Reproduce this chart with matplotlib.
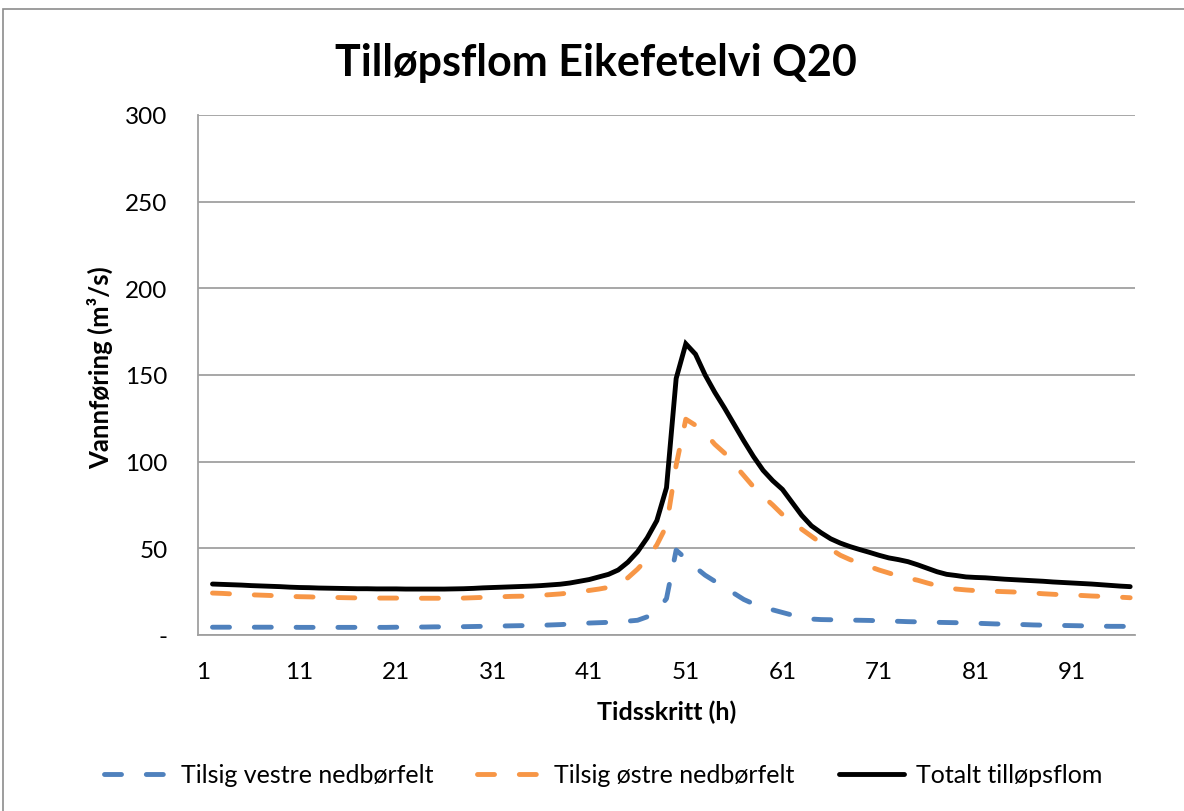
import matplotlib
matplotlib.use("Agg")
import matplotlib.pyplot as plt
from matplotlib.patches import Rectangle
import numpy as np

plt.rcParams['font.family'] = ['Lato', 'DejaVu Sans']

title = "Tilløpsflom Eikefetelvi Q20"
xlabel = "Tidsskritt (h)"
ylabel = "Vannføring (m³/s)"
series_names = ["Tilsig vestre nedbørfelt", "Tilsig østre nedbørfelt", "Totalt tilløpsflom"]

# time steps 2..97
timesteps = list(range(2, 98))

vestre = [4.5, 4.5, 4.5, 4.5, 4.5, 4.5, 4.5, 4.5, 4.5,            # 2-10
          4.4, 4.4, 4.4, 4.4, 4.4, 4.4, 4.4, 4.4, 4.4, 4.4,       # 11-20
          4.5, 4.5, 4.6, 4.6, 4.7, 4.7, 4.8, 4.8, 4.9, 5.0,       # 21-30
          5.1, 5.2, 5.3, 5.4, 5.5, 5.6, 5.8, 6.0, 6.3, 6.6,       # 31-40
          6.9, 7.1, 7.3, 7.6, 8.0, 8.5, 10.5, 14.0, 21.0, 49.0,   # 41-50
          44.0, 39.0, 34.5, 31.0, 27.5, 24.0, 20.5, 18.0, 16.0, 14.5,  # 51-60
          13.0, 11.5, 10.2, 9.2, 8.9, 8.8, 8.7, 8.6, 8.5, 8.4,    # 61-70
          8.2, 8.0, 7.9, 7.7, 7.6, 7.5, 7.3, 7.2, 7.1, 7.0,       # 71-80
          6.8, 6.6, 6.4, 6.3, 6.1, 6.0, 5.8, 5.7, 5.6, 5.5,       # 81-90
          5.4, 5.3, 5.2, 5.1, 5.0, 5.0, 4.9]                      # 91-97

ostre = [24.2, 24.0, 23.7, 23.5, 23.2, 23.0, 22.8, 22.5, 22.3,    # 2-10
         22.1, 22.0, 21.8, 21.7, 21.6, 21.5, 21.4, 21.4, 21.3, 21.3,  # 11-20
         21.3, 21.2, 21.2, 21.2, 21.2, 21.2, 21.3, 21.3, 21.5, 21.7,  # 21-30
         21.9, 22.1, 22.3, 22.4, 22.6, 22.9, 23.3, 23.7, 24.3, 25.0,  # 31-40
         25.7, 26.5, 27.5, 29.5, 33.0, 38.0, 44.0, 52.0, 63.0, 98.0,  # 41-50
         124.5, 121.0, 116.5, 110.0, 105.0, 98.5, 92.0, 85.5, 80.0, 75.0,  # 51-60
         69.5, 65.0, 61.0, 57.0, 53.0, 49.5, 46.0, 43.5, 41.5, 39.5,  # 61-70
         37.5, 35.8, 34.0, 32.8, 31.6, 30.0, 28.5, 27.3, 26.5, 26.0,  # 71-80
         25.6, 25.4, 25.2, 25.0, 24.8, 24.6, 24.2, 23.8, 23.5, 23.2,  # 81-90
         23.0, 22.8, 22.5, 22.3, 22.1, 21.8, 21.5]                    # 91-97

totalt = [29.4, 29.2, 29.0, 28.8, 28.5, 28.3, 28.1, 27.9, 27.6,   # 2-10
          27.4, 27.3, 27.1, 27.0, 26.9, 26.8, 26.7, 26.7, 26.6, 26.6,  # 11-20
          26.6, 26.5, 26.5, 26.5, 26.5, 26.5, 26.6, 26.7, 26.9, 27.2,  # 21-30
          27.4, 27.6, 27.8, 28.0, 28.2, 28.5, 28.9, 29.3, 30.0, 31.0,  # 31-40
          32.0, 33.5, 35.0, 37.5, 42.0, 48.0, 56.0, 66.0, 85.0, 148.0,  # 41-50
          168.0, 162.0, 150.0, 140.0, 131.0, 121.5, 112.0, 103.0, 95.0, 89.0,  # 51-60
          84.0, 76.5, 69.0, 63.0, 59.0, 55.5, 53.0, 51.0, 49.3, 47.7,  # 61-70
          46.0, 44.5, 43.5, 42.3, 40.5, 38.5, 36.5, 35.0, 34.3, 33.5,  # 71-80
          33.2, 33.0, 32.6, 32.2, 31.9, 31.6, 31.3, 31.0, 30.6, 30.3,  # 81-90
          30.0, 29.7, 29.4, 29.0, 28.6, 28.2, 27.9]                    # 91-97

xticks = [1, 11, 21, 31, 41, 51, 61, 71, 81, 91]
yticks = [0, 50, 100, 150, 200, 250, 300]
yticklabels = ["-", "50", "100", "150", "200", "250", "300"]

W, H = 1184, 812
fig = plt.figure(figsize=(W / 100, H / 100), dpi=100)
fig.patch.set_facecolor("white")

# chart border
fig.patches.append(Rectangle((3 / W, -0.05), 1.1, 1 - 10 / H + 0.05,
                             transform=fig.transFigure, fill=False,
                             edgecolor="#8c8c8c", linewidth=1.2, zorder=0))

ax = fig.add_axes([198 / W, 1 - 636 / H, 937 / W, 520 / H])
ax.set_facecolor("white")

blue = "#4f81bd"
orange = "#f79646"
lw = 3.5
dash = (3.5, 5.1)
l1, = ax.plot(timesteps, vestre, color=blue, lw=lw, dashes=dash,
              dash_capstyle="round", solid_capstyle="round", zorder=3)
l2, = ax.plot(timesteps, ostre, color=orange, lw=lw, dashes=dash,
              dash_capstyle="round", solid_capstyle="round", zorder=3)
l3, = ax.plot(timesteps, totalt, color="black", lw=lw,
              solid_capstyle="round", solid_joinstyle="miter", zorder=4)

ax.set_xlim(0.5, 97.5)
ax.set_ylim(0, 300)
ax.set_xticks(xticks)
ax.set_xticklabels([str(t) for t in xticks])
ax.set_yticks(yticks)
ax.set_yticklabels(yticklabels)
ax.tick_params(axis="both", length=0, labelsize=17.5, colors="black")
ax.tick_params(axis="x", pad=19)
ax.tick_params(axis="y", pad=22)
ax.grid(axis="y", color="#a0a0a0", lw=1.3)
ax.set_axisbelow(True)
for s in ["top", "right"]:
    ax.spines[s].set_visible(False)
for s in ["left", "bottom"]:
    ax.spines[s].set_color("#a0a0a0")
    ax.spines[s].set_linewidth(1.3)

fig.text(596 / W, 1 - 63 / H, title, ha="center", va="center",
         fontsize=31, fontweight="bold")
fig.text(667 / W, 1 - 712 / H, xlabel, ha="center", va="center",
         fontsize=18, fontweight="bold")
fig.text(100 / W, 1 - 368 / H, ylabel, ha="center", va="center",
         fontsize=18.5, fontweight="bold", rotation=90)

fig.legend([l1, l2, l3], series_names, loc="center",
           bbox_to_anchor=(603 / W, 1 - 776 / H), ncol=3, frameon=False,
           fontsize=18, handlelength=2.6, handletextpad=0.48,
           columnspacing=1.76)

fig.savefig("out.png", dpi=100, facecolor="white")
